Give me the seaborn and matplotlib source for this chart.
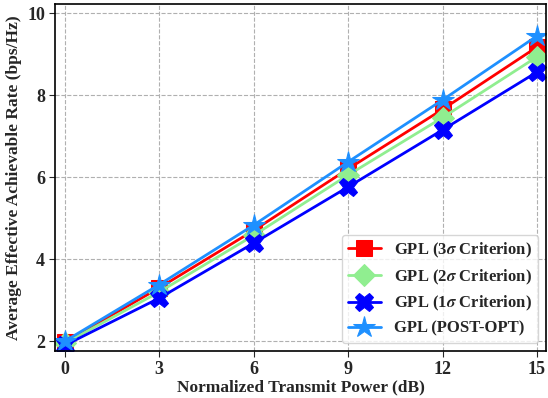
import matplotlib
matplotlib.use("Agg")
import matplotlib.pyplot as plt
import seaborn as sns
import pandas as pd

sns.set_style("ticks")
plt.rcParams['font.family'] = ['Liberation Serif', 'DejaVu Serif']
plt.rcParams['mathtext.fontset'] = 'stix'
plt.rcParams['font.weight'] = 'bold'

power = [0, 3, 6, 9, 12, 15]
gpl3 = [1.98, 3.30, 4.70, 6.20, 7.65, 9.17]
gpl2 = [1.95, 3.20, 4.58, 6.05, 7.45, 8.93]
gpl1 = [1.90, 3.05, 4.39, 5.76, 7.15, 8.56]
post = [2.00, 3.38, 4.83, 6.37, 7.88, 9.44]

labels = [r'GPL (3$\sigma$ Criterion)', r'GPL (2$\sigma$ Criterion)',
          r'GPL (1$\sigma$ Criterion)', 'GPL (POST-OPT)']
series = [gpl3, gpl2, gpl1, post]
colors = ['red', 'lightgreen', 'blue', 'dodgerblue']
markers = ['s', 'D', 'X', '*']
msizes = [11, 11, 13, 16]

rows = []
for lab, vals in zip(labels, series):
    for p, v in zip(power, vals):
        rows.append({'Power': p, 'Rate': v, 'Scheme': lab})
df = pd.DataFrame(rows)

fig, ax = plt.subplots(figsize=(5.48, 3.98), dpi=100)
for lab, c, m, ms in zip(labels, colors, markers, msizes):
    sub = df[df['Scheme'] == lab]
    sns.lineplot(data=sub, x='Power', y='Rate', ax=ax, color=c, marker=m,
                 markersize=ms, linewidth=2, markeredgecolor=c, label=lab)

ax.set_xlim(-0.32, 15.3)
ax.set_ylim(1.76, 10.22)
ax.set_xticks([0, 3, 6, 9, 12, 15])
ax.set_yticks([2, 4, 6, 8, 10])
ax.grid(True, linestyle='--', color='#b0b0b0', linewidth=0.8)
ax.set_xlabel('Normalized Transmit Power (dB)', fontsize=12.5, fontweight='bold', labelpad=1)
ax.set_ylabel('Average Effective Achievable Rate (bps/Hz)', fontsize=12.5, fontweight='bold', labelpad=4)
ax.tick_params(labelsize=13, direction='out', length=4, pad=3)
for t in ax.get_xticklabels() + ax.get_yticklabels():
    t.set_fontweight('bold')
for s in ax.spines.values():
    s.set_linewidth(1.2)
    s.set_color('black')
leg = ax.legend(loc='lower right', prop={'weight': 'bold', 'size': 12},
                frameon=True, fancybox=True, handlelength=2.0,
                borderaxespad=0.5, labelspacing=0.45, borderpad=0.35)
fig.subplots_adjust(left=0.10, right=0.997, bottom=0.118, top=0.99)
fig.savefig('out.png', dpi=100)
